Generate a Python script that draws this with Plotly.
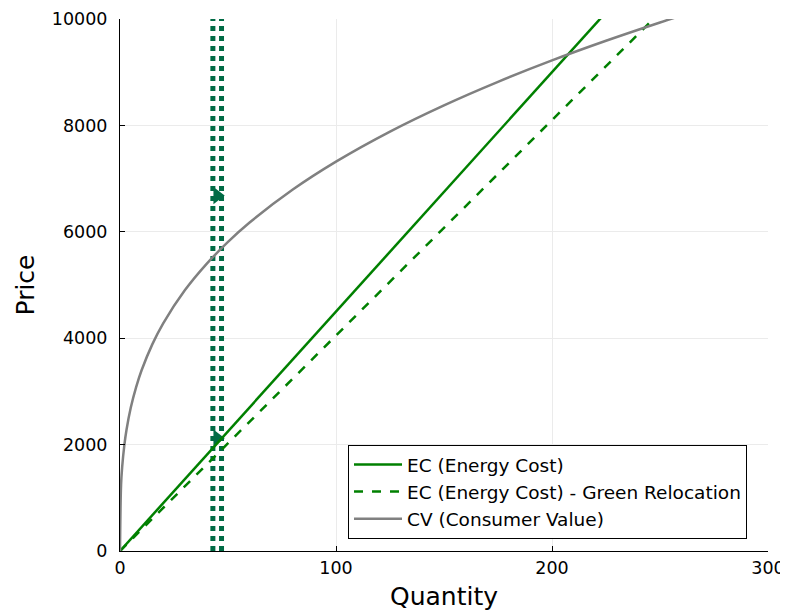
import plotly.graph_objects as go

# --- data ---
ec_q = [0, 300]
ec_price = [0, 13500]            # EC (Energy Cost), slope ~45
green_q = [0, 300]
green_price = [0, 12150]         # EC - Green Relocation, slope ~40.5

cv_q = [0, 0.5, 1, 2, 3, 5, 7.5, 10, 15, 20, 30, 40, 50, 60, 80, 100,
        125, 150, 175, 200, 225, 250, 260]
cv_price = [0, 1252, 1577, 1987, 2275, 2697, 3086, 3398, 3889, 4280, 4900,
            5393, 5810, 6174, 6795, 7320, 7885, 8378, 8820, 9222, 9591,
            9935, 10066]

vline_q = [43, 47]
vline_price = [0, 10000]

marker_q = [45, 45]
marker_price = [6680, 2120]

x_ticks = [0, 100, 200, 300]
y_ticks = [0, 2000, 4000, 6000, 8000, 10000]

dark_green = "#006b45"
green = "#008000"
gray = "#808080"

fig = go.Figure()

for q in vline_q:
    fig.add_trace(go.Scatter(
        x=[q, q], y=vline_price, mode="lines",
        line=dict(color=dark_green, width=5, dash="dot"),
        showlegend=False, hoverinfo="skip"))

fig.add_trace(go.Scatter(
    x=marker_q, y=marker_price, mode="markers",
    marker=dict(symbol="triangle-right", size=15, color=dark_green),
    showlegend=False))

fig.add_trace(go.Scatter(
    x=ec_q, y=ec_price, mode="lines", name="EC (Energy Cost)",
    line=dict(color=green, width=2.5)))
fig.add_trace(go.Scatter(
    x=green_q, y=green_price, mode="lines",
    name="EC (Energy Cost) - Green Relocation",
    line=dict(color=green, width=2.5, dash="dash")))
fig.add_trace(go.Scatter(
    x=cv_q, y=cv_price, mode="lines", name="CV (Consumer Value)",
    line=dict(color=gray, width=2.5, shape="spline")))

axis_common = dict(
    showgrid=True, gridcolor="#ebebeb", gridwidth=1,
    showline=True, linecolor="#000000", linewidth=1,
    ticks="inside", ticklen=5, tickcolor="#000000",
    tickfont=dict(size=17.5, color="#000000"),
    zeroline=False, mirror=False, automargin=False,
)

fig.update_layout(
    width=788, height=611,
    margin=dict(l=112, r=28, t=11, b=68),
    paper_bgcolor="white", plot_bgcolor="white",
    font=dict(family="DejaVu Sans", color="#000000"),
    xaxis=dict(range=[0, 300], tickvals=x_ticks,
               ticktext=[str(v) for v in x_ticks],
               title=dict(text="Quantity", font=dict(size=25), standoff=10),
               ticklabelstandoff=1, **axis_common),
    yaxis=dict(range=[0, 10000], tickvals=y_ticks,
               ticktext=[str(v) for v in y_ticks],
               title=dict(text="Price", font=dict(size=25), standoff=10),
               ticklabelstandoff=8, **axis_common),
    legend=dict(x=0.9676, y=0.1109, xanchor="right", yanchor="middle",
                bgcolor="white", bordercolor="#000000", borderwidth=1,
                font=dict(size=18.5), tracegroupgap=0, itemwidth=48),
    shapes=[dict(type="rect", xref="paper", yref="paper",
                 x0=1.0231, x1=1.0309, y0=0.9549, y1=1.03,
                 line=dict(color="#cccc40", width=2),
                 fillcolor="#fffff0", layer="above")],
)

fig.write_html("out.html")
